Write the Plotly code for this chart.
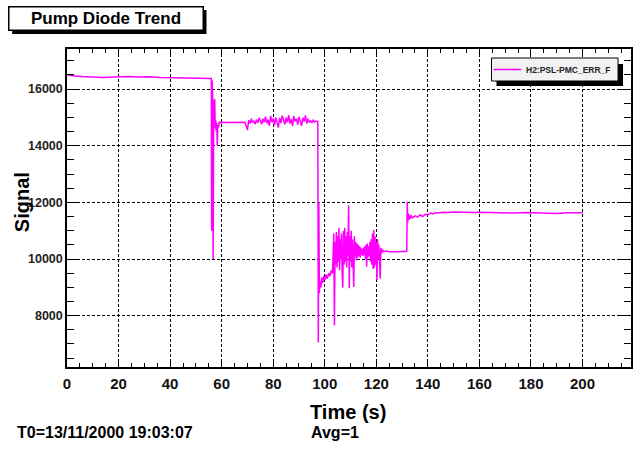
import plotly.graph_objects as go

# ---- data ----
time_s = [
    0, 1, 3, 6, 10, 14, 18, 20, 24, 28, 32, 36, 40, 44, 48, 52, 55, 56,
    56.1, 56.3, 56.5, 56.7, 56.9, 57.1, 57.3, 57.5, 57.7, 57.9, 58.1, 58.3, 58.5, 58.8, 59.1, 59.5,
    60, 62, 65, 68,
    69.0, 69.5, 70.0, 70.5, 71.0, 71.5, 72.0, 72.5, 73.0, 73.5, 74.0, 74.5, 75.0, 75.5, 76.0, 76.5,
    77.0, 77.5, 78.0, 78.5, 79.0, 79.5, 80.0, 80.5, 81.0, 81.5, 82.0, 82.5, 83.0, 83.5, 84.0, 84.5,
    85.0, 85.5, 86.0, 86.5, 87.0, 87.5, 88.0, 88.5, 89.0, 89.5, 90.0, 90.5, 91.0, 91.5, 92.0, 92.5,
    93.0, 93.5, 94.0, 94.5, 95.0, 95.5, 96.0, 96.5, 97.0,
    97.3, 97.5, 97.7, 97.9, 98.2, 98.5, 98.8, 99.2, 99.6, 100.0, 100.5, 101.0, 101.5, 102.0, 102.5,
    103.00, 103.25, 103.50, 103.75, 104.00, 104.25, 104.50, 104.75, 105.00, 105.25, 105.50, 105.75,
    106.00, 106.25, 106.50, 106.75, 107.00, 107.25, 107.50, 107.75, 108.00, 108.25, 108.50, 108.75,
    109.00, 109.25, 109.50, 109.75, 110.00, 110.25, 110.50, 110.75, 111.00, 111.25, 111.50, 111.75,
    112.00, 112.25, 112.50, 112.75, 113.00, 113.25, 113.50, 113.75, 114.00, 114.25, 114.50, 114.75,
    115.00, 115.25, 115.50, 115.75, 116.00, 116.25, 116.50, 116.75, 117.00, 117.25, 117.50, 117.75,
    118.00, 118.25, 118.50, 118.75, 119.00, 119.25, 119.50, 119.75, 120.00, 120.25, 120.50, 120.75,
    121.00, 121.25, 121.50, 121.75, 122.00, 122.25, 122.50, 122.75, 123.00,
    124.0, 125.0, 128.0, 131.0, 131.8,
    132.0, 132.2, 132.5, 133.0, 133.5, 134.0, 135.0, 136.0, 137.0, 138.0, 139.0, 140.0, 141.0, 142.0,
    143.0, 144.0, 146, 148, 150, 152, 155, 158, 160, 163, 166, 170, 174, 178, 182, 186, 190, 194, 197, 200,
]
signal = [
    16500, 16480, 16460, 16440, 16420, 16410, 16420, 16430, 16440, 16420, 16430, 16410, 16400, 16390, 16380, 16375, 16370, 16370,
    11000, 16300, 15800, 10000, 15600, 15400, 15650, 14600, 14900, 14500, 14800, 14000, 14750, 14650, 14850, 14800,
    14830, 14820, 14830, 14820,
    14830, 14700, 14550, 14900, 14780, 14950, 14820, 14880, 14760, 14920, 14800, 14980, 14850, 14760, 14950, 14820,
    15020, 14790, 14920, 14700, 15050, 14830, 14960, 14720, 15000, 14850, 14640, 14980, 14800, 15060, 14870, 14750,
    14990, 14820, 15080, 14780, 14940, 14700, 15040, 14860, 14960, 14740, 15020, 14830, 14700, 14990, 14850, 15070,
    14780, 14950, 14820, 14880, 14800, 14900, 14840, 14870, 14850,
    14850, 7050, 12000, 8800, 9200, 9000, 9350, 9150, 9400, 9250, 9450, 9300, 9500, 9400, 9600,
    9500, 10300, 10900, 7650, 10600, 9800, 10950, 9700, 10800, 9900, 11100, 9600,
    10700, 10000, 10900, 9500, 8990, 11000, 9800, 11100, 9900, 10800, 9700, 10950,
    10100, 11900, 8970, 10800, 9900, 11000, 9700, 10700, 10000, 9010, 10800, 10100,
    10600, 9950, 10550, 10050, 10500, 10100, 10450, 10050, 10400, 10150, 10350, 10100,
    10400, 10150, 10450, 10000, 10500, 9730, 10550, 10050, 10450, 10100, 10600, 9900,
    10700, 9800, 10900, 9650, 11020, 9700, 10800, 9800, 10600, 9260, 10700, 10000,
    10500, 9900, 9300, 10400, 10200, 10350, 10250, 10300, 10260,
    10280, 10260, 10260, 10260, 10270,
    12020, 11300, 11600, 11400, 11550, 11450, 11520, 11480, 11560, 11500, 11580, 11560, 11620, 11590,
    11640, 11620, 11650, 11640, 11660, 11650, 11660, 11640, 11650, 11640, 11650, 11640, 11620, 11640, 11630, 11640, 11610, 11630, 11620, 11630,
]
series_name = "H2:PSL-PMC_ERR_F"
title_text = "Pump Diode Trend"
x_title = "Time (s)"
y_title = "Signal"
footer_left = "T0=13/11/2000 19:03:07"
footer_mid = "Avg=1"

W, H = 633, 452
L, R, T, B = 67, 0, 49, 85
PW, PH = W - L - R, H - T - B


def px(x):
    return (x - L) / PW


def py(y):
    return (H - B - y) / PH


FONT = "Liberation Sans, Arial, Helvetica, sans-serif"
MAGENTA = "#ff00ff"

fig = go.Figure()
fig.add_trace(go.Scatter(
    x=time_s, y=signal, mode="lines", name=series_name,
    line=dict(color=MAGENTA, width=1.5), showlegend=False,
))

axis_common = dict(
    showline=True, linecolor="black", linewidth=1.5, mirror="allticks",
    ticks="inside", tickcolor="black", tickwidth=1,
    showgrid=True, gridcolor="black", gridwidth=1, griddash="3px,2px",
    zeroline=False,
)

fig.update_layout(
    width=W, height=H,
    margin=dict(l=L, r=R, t=T, b=B, pad=0),
    paper_bgcolor="white", plot_bgcolor="white",
    showlegend=False,
    xaxis=dict(
        range=[0, 218.8], tick0=0, dtick=20, ticklen=8,
        minor=dict(ticks="inside", dtick=5, ticklen=4, tickcolor="black", showgrid=False),
        ticklabelstandoff=2,
        tickfont=dict(family=FONT, size=15, color="#111", weight="bold"),
        **axis_common,
    ),
    yaxis=dict(
        range=[6188, 17412], tick0=0, dtick=2000, ticklen=12, tickformat="d",
        minor=dict(ticks="inside", dtick=500, ticklen=7, tickcolor="black", showgrid=False),
        ticklabelstandoff=0,
        tickfont=dict(family=FONT, size=12.5, color="#222", weight="bold"),
        **axis_common,
    ),
    shapes=[
        # title box shadow
        dict(type="rect", xref="paper", yref="paper",
             x0=px(12), x1=px(207), y0=py(10), y1=py(34),
             fillcolor="black", line=dict(width=0), layer="above"),
        # legend shadow
        dict(type="rect", xref="paper", yref="paper",
             x0=px(498), x1=px(625), y0=py(64), y1=py(86),
             fillcolor="black", line=dict(width=0), layer="above"),
        # legend box
        dict(type="rect", xref="paper", yref="paper",
             x0=px(493), x1=px(620), y0=py(58), y1=py(81),
             fillcolor="#f2f2f2", line=dict(color="black", width=1), layer="above"),
        # legend line sample
        dict(type="line", xref="paper", yref="paper",
             x0=px(495), x1=px(523), y0=py(69.5), y1=py(69.5),
             line=dict(color=MAGENTA, width=1.5), layer="above"),
    ],
    annotations=[
        dict(text=series_name, xref="paper", yref="paper", x=px(526), y=py(69.5),
             xanchor="left", yanchor="middle", showarrow=False,
             font=dict(family=FONT, size=8.5, color="#222", weight="bold")),
        dict(text=title_text, xref="paper", yref="paper", x=px(8), y=py(6),
             xanchor="left", yanchor="top", showarrow=False,
             font=dict(family=FONT, size=17, color="black", weight="bold"),
             bgcolor="white", bordercolor="black", borderwidth=1.5,
             width=191, height=20, borderpad=1, align="center"),
        dict(text=x_title, xref="paper", yref="paper", x=px(349), y=py(411.5),
             xanchor="center", yanchor="middle", showarrow=False,
             font=dict(family=FONT, size=20, color="black", weight="bold")),
        dict(text=y_title, xref="paper", yref="paper", x=px(22), y=py(202),
             xanchor="center", yanchor="middle", showarrow=False, textangle=-90,
             font=dict(family=FONT, size=20, color="black", weight="bold")),
        dict(text=footer_left, xref="paper", yref="paper", x=px(15), y=py(432),
             xanchor="left", yanchor="middle", showarrow=False,
             font=dict(family=FONT, size=16, color="black", weight="bold")),
        dict(text=footer_mid, xref="paper", yref="paper", x=px(310), y=py(432),
             xanchor="left", yanchor="middle", showarrow=False,
             font=dict(family=FONT, size=16, color="black", weight="bold")),
    ],
)

fig.write_html("out.html")
